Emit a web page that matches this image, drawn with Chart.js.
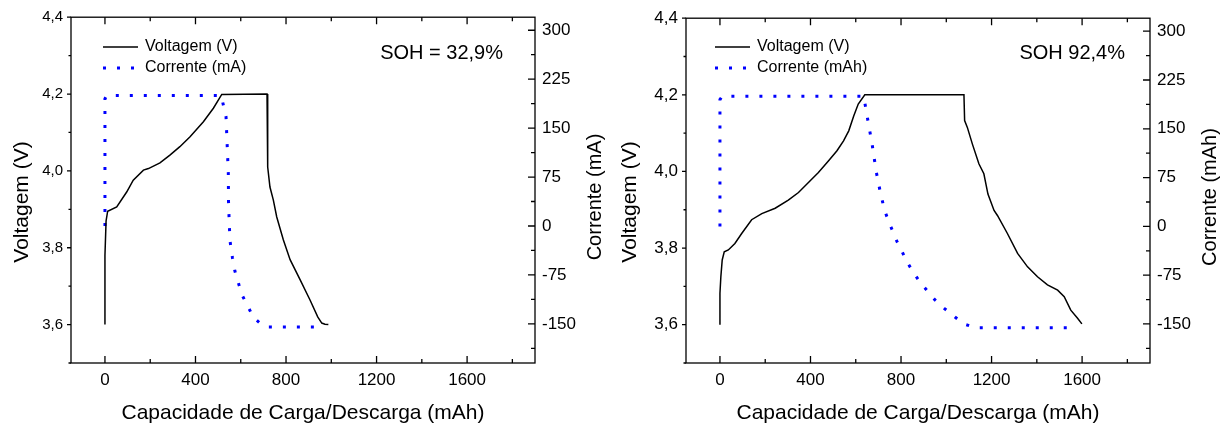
<!DOCTYPE html>
<html>
<head>
<meta charset="utf-8">
<script src="https://cdn.jsdelivr.net/npm/chart.js@4"></script>
<style>
  body { margin: 0; background: #fff; }
  #wrap { display: flex; width: 1230px; height: 426px; }
  canvas { display: block; }
</style>
</head>
<body>
<div id="wrap">
  <canvas id="chartA" width="615" height="426"></canvas>
  <canvas id="chartB" width="615" height="426"></canvas>
</div>
<script>
// ticks dos eixos
const capTicks = [0, 400, 800, 1200, 1600];
const voltTicks = [3.6, 3.8, 4.0, 4.2, 4.4];
const currTicks = [-150, -75, 0, 75, 150, 225, 300];

// painel A (SOH = 32,9%)
const capVA = [0, 0, 5, 12, 52, 96, 125, 170, 192, 243, 287, 331, 376, 435, 479, 516, 716, 719, 729, 744, 759, 788, 818, 862, 906, 940, 958, 972, 987];
const voltA = [3.600, 3.780, 3.870, 3.895, 3.906, 3.945, 3.976, 4.002, 4.006, 4.021, 4.041, 4.063, 4.089, 4.128, 4.163, 4.199, 4.200, 4.010, 3.958, 3.924, 3.880, 3.821, 3.769, 3.717, 3.664, 3.620, 3.604, 3.601, 3.600];
const capIA = [0, 0, 8, 510, 520, 535, 540, 545, 546, 550, 553, 563, 574, 592, 609, 634, 656, 685, 720, 965];
const currA = [0, 195, 200, 200, 190, 167, 124, 81, 36, -3, -24, -48, -69, -90, -108, -125, -140, -149, -155, -155];

// painel B (SOH 92,4%)
const capVB = [0, 0, 4, 10, 19, 37, 66, 96, 140, 185, 244, 302, 347, 391, 435, 480, 517, 546, 569, 591, 611, 640, 1078, 1081, 1093, 1115, 1144, 1166, 1184, 1211, 1226, 1270, 1315, 1359, 1403, 1447, 1492, 1521, 1550, 1580, 1599];
const voltB = [3.600, 3.682, 3.725, 3.769, 3.790, 3.795, 3.812, 3.838, 3.874, 3.890, 3.904, 3.925, 3.945, 3.971, 3.997, 4.028, 4.054, 4.080, 4.106, 4.145, 4.176, 4.200, 4.200, 4.133, 4.115, 4.072, 4.020, 3.994, 3.941, 3.898, 3.885, 3.838, 3.786, 3.751, 3.725, 3.704, 3.690, 3.673, 3.638, 3.617, 3.602];
const capIB = [0, 0, 10, 635, 650, 672, 691, 710, 728, 746, 783, 805, 827, 857, 886, 916, 950, 991, 1041, 1078, 1130, 1550];
const currB = [0, 195, 200, 200, 170, 127, 83, 50, 24, 7, -24, -39, -55, -72, -87, -99, -113, -126, -140, -150, -156, -156];

Chart.defaults.font.family = 'Arial, "Liberation Sans", sans-serif';
Chart.defaults.color = '#000';

function pairs(xs, ys) {
  return xs.map((x, i) => ({ x: x, y: ys[i] }));
}

// posicoes dos ticks (maiores e menores) a partir dos ticks da escala
function marks(scale) {
  const v = scale.ticks.map(t => t.value);
  const half = (v[1] - v[0]) / 2;
  const out = [];
  for (let k = -40; k <= 40; k++) {
    const t = v[0] + k * half;
    if (t < scale.min - 1e-9 || t > scale.max + 1e-9) continue;
    out.push({ px: scale.getPixelForValue(t), major: k % 2 === 0 });
  }
  return out;
}

const painel = {
  id: 'painel',
  afterDraw(chart, args, o) {
    const { ctx, chartArea: a, scales: { x, yV, yI } } = chart;
    ctx.save();
    ctx.strokeStyle = '#000';
    ctx.lineWidth = 1.3;
    ctx.strokeRect(a.left, a.top, a.right - a.left, a.bottom - a.top);

    ctx.beginPath();
    marks(x).forEach(m => {
      const len = m.major ? 7 : 4;
      ctx.moveTo(m.px, a.bottom); ctx.lineTo(m.px, a.bottom - len);
      ctx.moveTo(m.px, a.top); ctx.lineTo(m.px, a.top + len);
    });
    marks(yV).forEach(m => {
      const len = m.major ? 4 : 2.5;
      ctx.moveTo(a.left, m.px); ctx.lineTo(a.left - len, m.px);
    });
    marks(yI).forEach(m => {
      const len = m.major ? 7 : 4;
      ctx.moveTo(a.right, m.px); ctx.lineTo(a.right - len, m.px);
    });
    ctx.stroke();

    // legenda
    chart.data.datasets.forEach((ds, i) => {
      const y = o.legendY + i * 21;
      ctx.save();
      ctx.strokeStyle = ds.borderColor;
      ctx.lineWidth = ds.borderWidth;
      ctx.setLineDash(ds.borderDash || []);
      ctx.beginPath();
      ctx.moveTo(o.legendX, y); ctx.lineTo(o.legendX + 35, y);
      ctx.stroke();
      ctx.restore();
      ctx.fillStyle = '#000';
      ctx.font = '16px Arial, "Liberation Sans", sans-serif';
      ctx.textAlign = 'left';
      ctx.textBaseline = 'middle';
      ctx.fillText(ds.label, o.legendX + 42, y);
    });

    // SOH
    ctx.font = '20px Arial, "Liberation Sans", sans-serif';
    ctx.textAlign = 'right';
    ctx.textBaseline = 'middle';
    ctx.fillText(o.soh, o.sohX, 53);

    // titulos dos eixos y
    ctx.font = '21px Arial, "Liberation Sans", sans-serif';
    ctx.textAlign = 'center';
    ctx.save();
    ctx.translate(o.leftTitleX, 202);
    ctx.rotate(-Math.PI / 2);
    ctx.fillText('Voltagem (V)', 0, 0);
    ctx.restore();
    ctx.font = '20px Arial, "Liberation Sans", sans-serif';
    ctx.save();
    ctx.translate(595, 197);
    ctx.rotate(-Math.PI / 2);
    ctx.fillText(o.currTitle, 0, 0);
    ctx.restore();
    ctx.restore();
  }
};

function makeChart(id, capV, volt, capI, curr, o) {
  return new Chart(document.getElementById(id), {
    type: 'line',
    data: {
      datasets: [
        { label: 'Voltagem (V)', data: pairs(capV, volt), yAxisID: 'yV',
          borderColor: '#000', borderWidth: 1.5, pointRadius: 0, tension: 0 },
        { label: o.currLabel, data: pairs(capI, curr), yAxisID: 'yI',
          borderColor: '#0000ff', borderWidth: 3, borderDash: [3, 11], pointRadius: 0, tension: 0 }
      ]
    },
    options: {
      responsive: false,
      animation: false,
      layout: { padding: { top: 17, left: 0, right: 0, bottom: 0 } },
      plugins: {
        legend: { display: false },
        tooltip: { enabled: false },
        painel: o
      },
      scales: {
        x: {
          type: 'linear', min: -150, max: 1900,
          grid: { display: false, drawTicks: false }, border: { display: false },
          afterBuildTicks: s => { s.ticks = capTicks.map(v => ({ value: v })); },
          afterFit: s => { s.height = 63; },
          ticks: { font: { size: 17 }, color: '#000', padding: 7, maxRotation: 0, autoSkip: false,
                   callback: v => String(v) },
          title: { display: true, text: 'Capacidade de Carga/Descarga (mAh)', font: { size: 21 }, color: '#000', padding: 0 }
        },
        yV: {
          type: 'linear', position: 'left', min: 3.5, max: 4.4,
          grid: { display: false, drawTicks: false }, border: { display: false },
          afterBuildTicks: s => { s.ticks = voltTicks.map(v => ({ value: v })); },
          afterFit: s => { s.width = 71; },
          ticks: { font: { size: o.voltTickSize }, color: '#000', padding: 8, autoSkip: false,
                   callback: v => v.toFixed(1).replace('.', ',') }
        },
        yI: {
          type: 'linear', position: 'right', min: -210, max: 320,
          grid: { display: false, drawTicks: false }, border: { display: false },
          afterBuildTicks: s => { s.ticks = currTicks.map(v => ({ value: v })); },
          afterFit: s => { s.width = 80; },
          ticks: { font: { size: 17 }, color: '#000', padding: 7, autoSkip: false,
                   callback: v => String(v) }
        }
      }
    },
    plugins: [painel]
  });
}

makeChart('chartA', capVA, voltA, capIA, currA, {
  currLabel: 'Corrente (mA)', currTitle: 'Corrente (mA)', soh: 'SOH = 32,9%',
  sohX: 503, legendX: 103, legendY: 47, leftTitleX: 22, voltTickSize: 15
});
makeChart('chartB', capVB, voltB, capIB, currB, {
  currLabel: 'Corrente (mAh)', currTitle: 'Corrente (mAh)', soh: 'SOH 92,4%',
  sohX: 510, legendX: 100, legendY: 47, leftTitleX: 15, voltTickSize: 17
});
</script>
</body>
</html>
